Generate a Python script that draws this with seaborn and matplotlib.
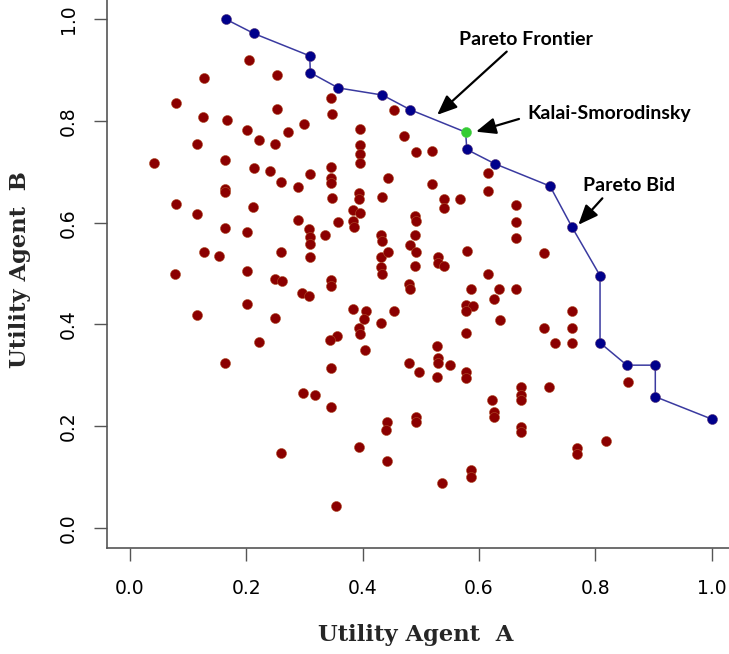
import numpy as np
import pandas as pd
import matplotlib
matplotlib.use("Agg")
import matplotlib.pyplot as plt
import seaborn as sns

# ---- data ----
red_x = [0.204,0.127,0.252,0.079,0.252,0.346,0.348,0.453,0.126,0.166,
         0.202,0.222,0.249,0.272,0.299,0.396,0.471,0.116,0.395,0.395,
         0.396,0.491,0.041,0.164,0.214,0.241,0.260,0.289,0.310,0.345,
         0.346,0.346,0.444,0.163,0.164,0.347,0.394,0.394,0.434,0.079,
         0.116,0.212,0.384,0.395,0.288,0.358,0.384,0.385,0.490,0.491,
         0.163,0.202,0.308,0.309,0.309,0.336,0.432,0.433,0.490,0.482,
         0.127,0.153,0.259,0.309,0.432,0.443,0.491,0.490,0.432,0.433,
         0.078,0.201,0.249,0.261,0.296,0.308,0.346,0.346,0.480,0.481,
         0.201,0.116,0.249,0.384,0.405,0.403,0.453,0.432,0.394,0.395,
         0.356,0.344,0.222,0.404,0.163,0.346,0.480,0.497,0.297,0.318,
         0.345,0.442,0.440,0.491,0.491,0.393,0.259,0.441,0.355,0.520,
         0.520,0.540,0.540,0.567,0.615,0.616,0.664,0.664,0.664,0.712,
         0.529,0.530,0.540,0.579,0.615,0.586,0.635,0.663,0.626,0.577,
         0.589,0.577,0.636,0.759,0.712,0.760,0.731,0.759,0.577,0.527,
         0.529,0.529,0.550,0.527,0.577,0.577,0.672,0.672,0.672,0.721,
         0.623,0.625,0.625,0.672,0.672,0.818,0.768,0.768,0.856,0.586,
         0.586,0.536]
red_y = [0.920,0.884,0.890,0.836,0.824,0.845,0.813,0.822,0.807,0.801,
         0.782,0.763,0.754,0.778,0.794,0.784,0.770,0.754,0.752,0.735,
         0.718,0.739,0.718,0.724,0.707,0.701,0.681,0.670,0.695,0.710,
         0.688,0.678,0.688,0.667,0.660,0.649,0.658,0.646,0.651,0.637,
         0.618,0.630,0.626,0.620,0.606,0.601,0.604,0.592,0.614,0.603,
         0.589,0.582,0.587,0.572,0.559,0.576,0.575,0.564,0.576,0.557,
         0.543,0.535,0.543,0.533,0.533,0.543,0.543,0.514,0.512,0.499,
         0.499,0.505,0.489,0.485,0.462,0.455,0.487,0.476,0.480,0.469,
         0.441,0.418,0.412,0.431,0.427,0.410,0.427,0.402,0.394,0.382,
         0.378,0.369,0.366,0.350,0.324,0.314,0.324,0.306,0.266,0.262,
         0.237,0.209,0.192,0.218,0.208,0.160,0.148,0.131,0.044,0.741,
         0.676,0.646,0.629,0.647,0.697,0.663,0.634,0.601,0.570,0.541,
         0.533,0.520,0.515,0.545,0.499,0.470,0.470,0.470,0.451,0.438,
         0.437,0.426,0.408,0.427,0.393,0.393,0.364,0.364,0.383,0.357,
         0.335,0.325,0.320,0.296,0.307,0.295,0.277,0.261,0.252,0.277,
         0.252,0.227,0.218,0.199,0.189,0.171,0.157,0.145,0.287,0.114,
         0.101,0.088]

pareto_x = [0.165,0.213,0.309,0.310,0.358,0.434,0.482,0.579,0.627,
            0.722,0.760,0.808,0.808,0.854,0.903,0.903,1.000]
pareto_y = [1.000,0.972,0.928,0.895,0.865,0.851,0.822,0.744,0.716,
            0.672,0.591,0.496,0.364,0.320,0.320,0.258,0.214]

ks_x = [0.577]
ks_y = [0.778]

ticks = [0.0, 0.2, 0.4, 0.6, 0.8, 1.0]
tick_labels = ["0.0", "0.2", "0.4", "0.6", "0.8", "1.0"]

# frontier line passes through the Kalai-Smorodinsky point
front = pd.DataFrame({"x": pareto_x + ks_x, "y": pareto_y + ks_y})
front = front.sort_values(["x", "y"], ascending=[True, False]).reset_index(drop=True)

bids = pd.DataFrame({"x": red_x, "y": red_y})
pareto = pd.DataFrame({"x": pareto_x, "y": pareto_y})
ks = pd.DataFrame({"x": ks_x, "y": ks_y})

# ---- figure ----
sns.set_style("white")
plt.rcParams["font.family"] = ["DejaVu Sans"]

W, H = 729, 654
fig = plt.figure(figsize=(W / 100, H / 100), dpi=100)
left_px, right_px, bottom_px, top_px = 106.7, 735.0, 548.3, -1.1
ax = fig.add_axes([left_px / W, (H - bottom_px) / H,
                   (right_px - left_px) / W, (bottom_px - top_px) / H])

dot = 52
sns.scatterplot(data=bids, x="x", y="y", ax=ax, color="#8b0000", s=dot,
                linewidth=0.4, edgecolor="#b0502a", zorder=2)
sns.lineplot(data=front, x="x", y="y", ax=ax, sort=False, color="#3a3aa0",
             linewidth=1.1, zorder=3, estimator=None)
sns.scatterplot(data=pareto, x="x", y="y", ax=ax, color="#00008b", s=dot,
                linewidth=0.4, edgecolor="#5a3a7a", zorder=4)
sns.scatterplot(data=ks, x="x", y="y", ax=ax, color="#33cc33", s=dot,
                linewidth=0.4, edgecolor="#55cc55", zorder=5)

ax.set_xlim(-0.04, 1.04)
ax.set_ylim(-0.04, 1.04)
ax.set_xticks(ticks)
ax.set_xticklabels(tick_labels)
ax.set_yticks(ticks)
ax.set_yticklabels(tick_labels, rotation=90, va="center")

spine_c = "#555555"
for side in ["left", "bottom", "top", "right"]:
    ax.spines[side].set_color(spine_c)
    ax.spines[side].set_linewidth(1.2)

ax.tick_params(axis="both", which="major", bottom=True, left=True,
               top=False, right=False, direction="out", length=9.7,
               width=1.0, color=spine_c, labelsize=13.5, labelcolor="black")
ax.tick_params(axis="x", pad=12.5)
ax.tick_params(axis="y", pad=11)

lab_font = dict(family="DejaVu Serif", weight="bold", size=16.3)
ax.set_xlabel("Utility Agent  A", **lab_font)
ax.set_ylabel("Utility Agent  B", **lab_font)
ax.xaxis.set_label_coords((415.5 - left_px) / (right_px - left_px), -0.137)
ax.yaxis.set_label_coords((31 - left_px) / (right_px - left_px), 0.5066)

ann_font = dict(family="Lato", weight="bold", size=14, color="black")
arrow = dict(arrowstyle="-|>,head_length=0.6,head_width=0.25",
             color="black", lw=1.6, mutation_scale=20,
             shrinkA=0, shrinkB=0)

ax.text(0.681, 0.9495, "Pareto Frontier", ha="center", va="baseline", **ann_font)
ax.annotate("", xy=(0.528, 0.812), xytext=(0.6476, 0.9364), arrowprops=arrow)

ax.text(0.8236, 0.8035, "Kalai-Smorodinsky", ha="center", va="baseline", **ann_font)
ax.annotate("", xy=(0.5948, 0.779), xytext=(0.6687, 0.804), arrowprops=arrow)

ax.text(0.8575, 0.6627, "Pareto Bid", ha="center", va="baseline", **ann_font)
ax.annotate("", xy=(0.7707, 0.5959), xytext=(0.812, 0.648), arrowprops=arrow)

fig.savefig("out.png", dpi=100)
